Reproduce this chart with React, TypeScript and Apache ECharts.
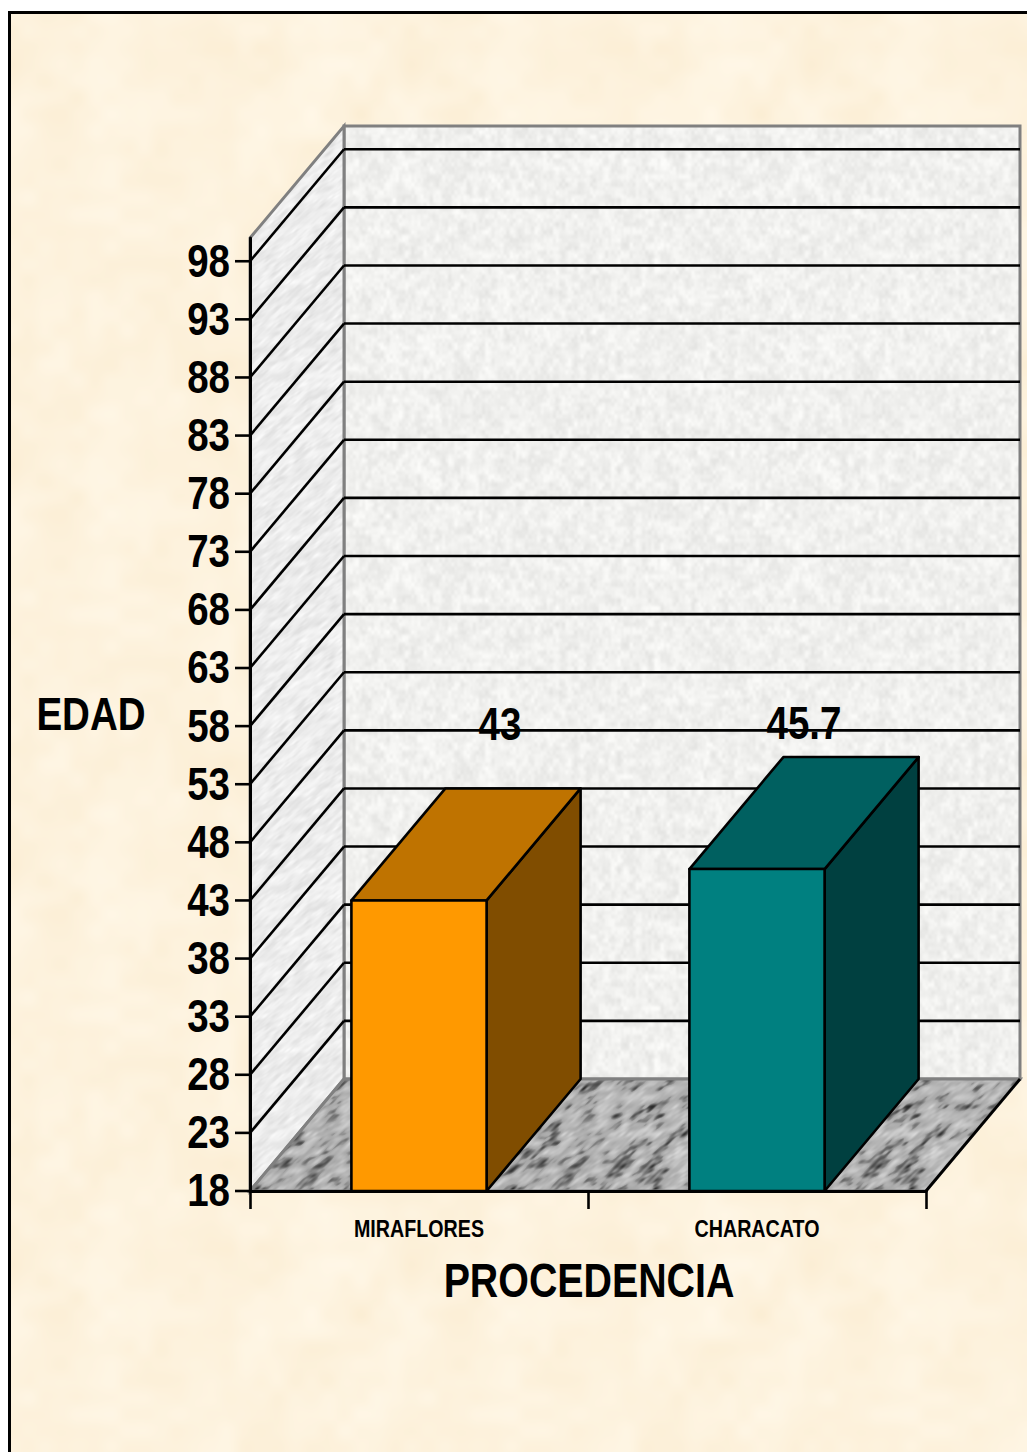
import React, { useEffect, useRef } from "react";
import * as echarts from "echarts";

const categories = ["MIRAFLORES", "CHARACATO"];
const edadValues = [43, 45.7];
const yTicks = [18, 23, 28, 33, 38, 43, 48, 53, 58, 63, 68, 73, 78, 83, 88, 93, 98];
const yMin = 18;
const yMax = 100;
const yTitle = "EDAD";
const xTitle = "PROCEDENCIA";
const frontColors = ["#FF9900", "#008080"];
const topColors = ["#BF7300", "#006060"];
const sideColors = ["#804D00", "#004040"];
const labelShift = [[81, -177], [47, -146]];

const DEPTH_X = 94;
const DEPTH_Y = 112;
const NARROW = 0.82;
const FONT = "'Liberation Sans', Arial, sans-serif";

function lattice(ix: number, iy: number, seed: number, px: number, py: number) {
  const x = ((ix % px) + px) % px;
  const y = ((iy % py) + py) % py;
  let h = (Math.imul(x, 374761393) + Math.imul(y, 668265263) + Math.imul(seed, 2147483)) | 0;
  h = Math.imul(h ^ (h >>> 13), 1274126177);
  h = h ^ (h >>> 16);
  return ((h >>> 0) / 4294967295) * 2 - 1;
}
function smooth(t: number) {
  return t * t * (3 - 2 * t);
}
function noise(u: number, v: number, seed: number, px: number, py: number) {
  const ix = Math.floor(u);
  const iy = Math.floor(v);
  const fx = smooth(u - ix);
  const fy = smooth(v - iy);
  const a = lattice(ix, iy, seed, px, py);
  const b = lattice(ix + 1, iy, seed, px, py);
  const c = lattice(ix, iy + 1, seed, px, py);
  const d = lattice(ix + 1, iy + 1, seed, px, py);
  return a + (b - a) * fx + (c - a) * fy + (a - b - c + d) * fx * fy;
}
function texture(size: number, shade: (x: number, y: number) => number[]) {
  const canvas = document.createElement("canvas");
  canvas.width = size;
  canvas.height = size;
  const ctx = canvas.getContext("2d")!;
  const img = ctx.createImageData(size, size);
  for (let y = 0; y < size; y++) {
    for (let x = 0; x < size; x++) {
      const c = shade(x, y);
      const i = (y * size + x) * 4;
      img.data[i] = c[0];
      img.data[i + 1] = c[1];
      img.data[i + 2] = c[2];
      img.data[i + 3] = 255;
    }
  }
  ctx.putImageData(img, 0, 0);
  return canvas;
}

function makeTextures() {
  const paper = texture(400, (x, y) => {
    const n =
      0.6 * noise((x / 400) * 8, (y / 400) * 8, 1, 8, 8) +
      0.4 * noise((x / 400) * 24, (y / 400) * 24, 2, 24, 24);
    return [253 + n * 2, 242 + n * 5, 221 + n * 10];
  });
  const wall = texture(400, (x, y) => {
    const n =
      0.6 * noise((x / 400) * 64, (y / 400) * 52, 3, 64, 52) +
      0.4 * noise((x / 400) * 130, (y / 400) * 100, 4, 130, 100);
    const v = 240 + n * 13;
    return [v, v, v - 2];
  });
  const sideWall = texture(256, (x, y) => {
    const sx = x + y;
    const n =
      0.6 * noise((sx / 256) * 50, (y / 256) * 30, 5, 50, 30) +
      0.4 * noise((sx / 256) * 90, (y / 256) * 60, 6, 90, 60);
    const v = 236 + n * 15;
    return [v, v, v];
  });
  const floor = texture(256, (x, y) => {
    const sx = x + y;
    const n =
      0.65 * noise((sx / 256) * 30, (y / 256) * 28, 7, 30, 28) +
      0.35 * noise((sx / 256) * 70, (y / 256) * 56, 8, 70, 56);
    const spot = n < -0.15 ? (n + 0.15) * 120 : 0;
    const v = 174 + n * 42 + spot;
    return [v, v, v];
  });
  return { paper, wall, sideWall, floor };
}

function boldText(text: string, x: number, y: number, fontSize: number, align: string) {
  return {
    type: "text",
    x,
    y,
    scaleX: NARROW,
    style: {
      text,
      x: 0,
      y: 0,
      align,
      verticalAlign: "middle",
      fontFamily: FONT,
      fontWeight: "bold",
      fontSize,
      fill: "#000",
    },
  };
}

export default function App() {
  const ref = useRef<HTMLDivElement>(null);
  const paperRef = useRef<HTMLDivElement>(null);

  useEffect(() => {
    document.body.style.margin = "0";
    document.body.style.background = "#fff";
    const chart = echarts.init(ref.current!, undefined, { renderer: "svg" });
    const tex = makeTextures();
    paperRef.current!.style.backgroundImage = `url(${tex.paper.toDataURL()})`;

    const renderWalls = (params: any, api: any) => {
      const cs = params.coordSys;
      const left = cs.x;
      const right = cs.x + cs.width;
      const top = api.coord([0, yMax])[1];
      const bottom = api.coord([0, yMin])[1];
      const gray = { stroke: "#808080", lineWidth: 3 };
      return {
        type: "group",
        children: [
          {
            type: "polygon",
            shape: { points: [[left + DEPTH_X, top - DEPTH_Y], [right + DEPTH_X, top - DEPTH_Y], [right + DEPTH_X, bottom - DEPTH_Y], [left + DEPTH_X, bottom - DEPTH_Y]] },
            style: { fill: { image: tex.wall, repeat: "repeat" }, ...gray },
          },
          {
            type: "polygon",
            shape: { points: [[left, top], [left + DEPTH_X, top - DEPTH_Y], [left + DEPTH_X, bottom - DEPTH_Y], [left, bottom]] },
            style: { fill: { image: tex.sideWall, repeat: "repeat" }, ...gray },
          },
          {
            type: "polygon",
            shape: { points: [[left, bottom], [left + DEPTH_X, bottom - DEPTH_Y], [right + DEPTH_X, bottom - DEPTH_Y], [right, bottom]] },
            style: { fill: { image: tex.floor, repeat: "repeat" }, ...gray },
          },
          {
            type: "line",
            shape: { x1: right, y1: bottom, x2: right + DEPTH_X, y2: bottom - DEPTH_Y },
            style: { stroke: "#000", lineWidth: 2.8 },
          },
        ],
      };
    };

    const renderGridLine = (params: any, api: any) => {
      const cs = params.coordSys;
      const left = cs.x;
      const right = cs.x + cs.width;
      const tick = api.value(1);
      const y = api.coord([0, tick])[1];
      const line = { stroke: "#000", lineWidth: 2.6 };
      const children: any[] = [
        boldText(String(tick), left - 20, y - 1, 47, "right"),
        { type: "line", shape: { x1: left - 15, y1: y, x2: left, y2: y }, style: line },
      ];
      if (tick > yMin) {
        children.push(
          { type: "line", shape: { x1: left, y1: y, x2: left + DEPTH_X, y2: y - DEPTH_Y }, style: line },
          { type: "line", shape: { x1: left + DEPTH_X, y1: y - DEPTH_Y, x2: right + DEPTH_X, y2: y - DEPTH_Y }, style: line },
        );
      }
      return { type: "group", children };
    };

    const renderBar = (params: any, api: any) => {
      const i = params.dataIndex;
      const value = api.value(1);
      const [cx, yTop] = api.coord([i, value]);
      const yBase = api.coord([i, yMin])[1];
      const half = api.size([1, 0])[0] * 0.2;
      const l = cx - half;
      const r = cx + half;
      const edge = { stroke: "#000", lineWidth: 2.6, lineJoin: "round" };
      return {
        type: "group",
        children: [
          {
            type: "polygon",
            shape: { points: [[r, yTop], [r + DEPTH_X, yTop - DEPTH_Y], [r + DEPTH_X, yBase - DEPTH_Y], [r, yBase]] },
            style: { fill: sideColors[i], ...edge },
          },
          {
            type: "polygon",
            shape: { points: [[l, yTop], [l + DEPTH_X, yTop - DEPTH_Y], [r + DEPTH_X, yTop - DEPTH_Y], [r, yTop]] },
            style: { fill: topColors[i], ...edge },
          },
          {
            type: "polygon",
            shape: { points: [[l, yTop], [r, yTop], [r, yBase], [l, yBase]] },
            style: { fill: frontColors[i], ...edge },
          },
          boldText(String(value), cx + labelShift[i][0], yTop + labelShift[i][1], 47, "center"),
          boldText(categories[i], cx, yBase + 38, 24, "center"),
        ],
      };
    };

    chart.setOption({
      animation: false,
      backgroundColor: "transparent",
      textStyle: { fontFamily: FONT },
      graphic: [
        { ...boldText(yTitle, 91, 714, 47, "center"), silent: true },
        { ...boldText(xTitle, 589, 1280, 48, "center"), silent: true },
      ],
      grid: { left: 250, top: 238, width: 676, height: 953, containLabel: false },
      xAxis: {
        type: "category",
        data: categories,
        z: 10,
        axisLine: { show: true, lineStyle: { color: "#000", width: 3 } },
        axisTick: { show: true, length: 18, lineStyle: { color: "#000", width: 2.6 } },
        axisLabel: { show: false },
        splitLine: { show: false },
      },
      yAxis: {
        type: "value",
        min: yMin,
        max: yMax,
        z: 10,
        axisLine: { show: true, lineStyle: { color: "#000", width: 3 } },
        axisTick: { show: false },
        axisLabel: { show: false },
        splitLine: { show: false },
      },
      series: [
        {
          type: "custom",
          name: "walls",
          silent: true,
          clip: false,
          data: [[0, yMax]],
          encode: { x: 0, y: 1 },
          renderItem: renderWalls,
          z: 1,
        },
        {
          type: "custom",
          name: "gridlines",
          silent: true,
          clip: false,
          data: yTicks.map((t) => [0, t]),
          encode: { x: 0, y: 1 },
          renderItem: renderGridLine,
          z: 2,
        },
        {
          type: "custom",
          name: "EDAD",
          silent: true,
          clip: false,
          data: edadValues.map((v, i) => [i, v]),
          encode: { x: 0, y: 1 },
          renderItem: renderBar,
          z: 3,
        },
      ],
    });

    return () => chart.dispose();
  }, []);

  return (
    <div style={{ position: "absolute", left: 0, top: 0, width: 1027, height: 1452, overflow: "hidden", background: "#fff" }}>
      <div
        ref={paperRef}
        style={{
          position: "absolute",
          left: 8,
          top: 11,
          width: 1100,
          height: 1500,
          boxSizing: "border-box",
          border: "3px solid #000",
        }}
      />
      <div ref={ref} style={{ position: "absolute", left: 0, top: 0, width: 1027, height: 1452 }} />
    </div>
  );
}
